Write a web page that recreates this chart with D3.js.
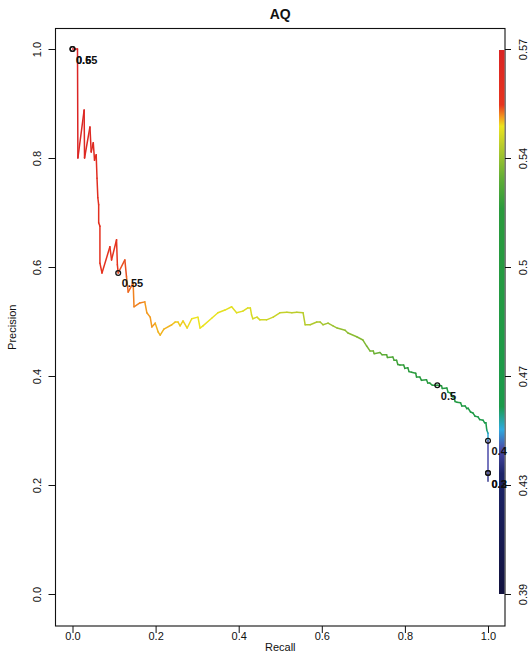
<!DOCTYPE html>
<html>
<head>
<meta charset="utf-8">
<script src="https://cdn.jsdelivr.net/npm/d3@7"></script>
<style>
    html, body { margin: 0; padding: 0; background: #fff; }
    svg { display: block; font-family: "Liberation Sans", Arial, Helvetica, sans-serif; }
</style>
</head>
<body>
<svg id="chart" width="528" height="652"></svg>
<script>
// Chart data
const title = "AQ";
const xLabel = "Recall";
const yLabel = "Precision";

const recall = [
    0.000, 0.012, 0.013, 0.028, 0.029, 0.042, 0.045, 0.050, 0.053, 0.057,
    0.059, 0.061, 0.063, 0.063, 0.066, 0.066, 0.071, 0.090, 0.094, 0.106,
    0.108, 0.110, 0.126, 0.130, 0.134, 0.146, 0.148, 0.162, 0.174, 0.179,
    0.187, 0.191, 0.199, 0.206, 0.211, 0.220, 0.239, 0.247, 0.254, 0.259,
    0.266, 0.276, 0.287, 0.302, 0.307, 0.314, 0.335, 0.350, 0.367, 0.383,
    0.395, 0.410, 0.422, 0.428, 0.431, 0.434, 0.444, 0.451, 0.467, 0.483,
    0.499, 0.516, 0.528, 0.540, 0.555, 0.560, 0.572, 0.588, 0.596, 0.603,
    0.615, 0.627, 0.637, 0.656, 0.663, 0.684, 0.699, 0.708, 0.716, 0.724,
    0.726, 0.740, 0.745, 0.756, 0.758, 0.771, 0.774, 0.780, 0.783, 0.788,
    0.797, 0.800, 0.807, 0.810, 0.816, 0.826, 0.828, 0.836, 0.840, 0.852,
    0.855, 0.860, 0.866, 0.878, 0.888, 0.890, 0.901, 0.904, 0.909, 0.914,
    0.918, 0.921, 0.925, 0.934, 0.937, 0.945, 0.949, 0.952, 0.958, 0.964,
    0.969, 0.976, 0.980, 0.988, 0.992, 0.995, 0.997, 1.000, 1.000, 1.000,
    1.000
];

const precision = [
    1.000, 1.000, 0.800, 0.888, 0.800, 0.857, 0.811, 0.828, 0.796, 0.806,
    0.763, 0.727, 0.714, 0.681, 0.675, 0.607, 0.589, 0.637, 0.613, 0.650,
    0.604, 0.589, 0.613, 0.582, 0.554, 0.571, 0.527, 0.534, 0.536, 0.516,
    0.508, 0.490, 0.497, 0.481, 0.475, 0.486, 0.494, 0.499, 0.499, 0.492,
    0.501, 0.488, 0.505, 0.508, 0.488, 0.492, 0.506, 0.516, 0.521, 0.527,
    0.516, 0.519, 0.525, 0.525, 0.512, 0.505, 0.508, 0.503, 0.503, 0.508,
    0.516, 0.517, 0.516, 0.517, 0.516, 0.494, 0.494, 0.499, 0.499, 0.494,
    0.497, 0.492, 0.488, 0.484, 0.479, 0.472, 0.466, 0.455, 0.446, 0.446,
    0.441, 0.443, 0.439, 0.439, 0.434, 0.435, 0.429, 0.429, 0.421, 0.420,
    0.420, 0.414, 0.415, 0.408, 0.407, 0.405, 0.398, 0.398, 0.392, 0.393,
    0.387, 0.387, 0.383, 0.383, 0.382, 0.377, 0.378, 0.370, 0.369, 0.362,
    0.362, 0.353, 0.352, 0.351, 0.345, 0.345, 0.340, 0.341, 0.334, 0.332,
    0.326, 0.325, 0.320, 0.319, 0.314, 0.314, 0.301, 0.295, 0.281, 0.222,
    0.207
];

const threshold = [
    0.572, 0.571, 0.570, 0.568, 0.567, 0.566, 0.565, 0.564, 0.563, 0.562,
    0.561, 0.560, 0.559, 0.558, 0.557, 0.557, 0.556, 0.555, 0.555, 0.554,
    0.554, 0.553, 0.553, 0.552, 0.552, 0.551, 0.551, 0.551, 0.550, 0.550,
    0.550, 0.550, 0.549, 0.549, 0.549, 0.549, 0.5485, 0.548, 0.548, 0.548,
    0.5478, 0.5475, 0.547, 0.547, 0.547, 0.5468, 0.5465, 0.546, 0.546, 0.5458,
    0.5455, 0.545, 0.545, 0.5448, 0.5445, 0.544, 0.544, 0.5435, 0.543, 0.5425,
    0.542, 0.5415, 0.541, 0.5408, 0.5405, 0.540, 0.5395, 0.539, 0.5385, 0.538,
    0.5375, 0.537, 0.536, 0.5355, 0.535, 0.534, 0.5335, 0.533, 0.5325, 0.532,
    0.531, 0.530, 0.529, 0.528, 0.527, 0.526, 0.525, 0.524, 0.523, 0.522,
    0.521, 0.520, 0.518, 0.517, 0.516, 0.514, 0.513, 0.511, 0.510, 0.508,
    0.506, 0.504, 0.502, 0.500, 0.498, 0.497, 0.495, 0.494, 0.492, 0.490,
    0.489, 0.487, 0.486, 0.484, 0.482, 0.480, 0.478, 0.477, 0.474, 0.472,
    0.469, 0.466, 0.463, 0.460, 0.457, 0.455, 0.452, 0.448, 0.441, 0.438,
    0.3935
];

// Marked cut-offs with their labels
const markerRecall    = [0.000, 0.000, 0.110, 0.878, 1.000, 1.000, 1.000];
const markerPrecision = [1.000, 1.000, 0.589, 0.383, 0.281, 0.222, 0.222];
const markerLabel     = ["0.6", "0.55", "0.55", "0.5", "0.4", "0.3", "0.2"];

// Axis ticks
const xTicks = [0, 0.2, 0.4, 0.6, 0.8, 1.0];
const yTicks = [0, 0.2, 0.4, 0.6, 0.8, 1.0];
const legendTickValues = [0.3935, 0.4292, 0.4649, 0.5006, 0.5363, 0.572];
const legendTickLabels = ["0.39", "0.43", "0.47", "0.5", "0.54", "0.57"];

// Colour scale of the threshold legend
const paletteValues = [0.3935, 0.433, 0.441, 0.4475, 0.455, 0.52, 0.53, 0.541, 0.547, 0.550, 0.554, 0.572];
const paletteColors = ["#12123e", "#1c2468", "#4a4aa8", "#2eaade", "#1a9a4a", "#2a9a3c",
                       "#62ae36", "#bccd2c", "#ece41e", "#f39a1e", "#e6341e", "#da2424"];

/**
 * Precision/recall chart with threshold colour legend.
 */
class PrChart
{
    constructor(svg)
    {
        this.svg   = svg;
        this.box   = {left: 55.5, top: 28.5, right: 505, bottom: 626};
        this.x     = d3.scaleLinear().domain([0, 1]).range([72.5, 488]);
        this.y     = d3.scaleLinear().domain([0, 1]).range([594, 49]);
        this.legendY = d3.scaleLinear()
            .domain([d3.min(legendTickValues), d3.max(legendTickValues)])
            .range([594, 49]);
        this.color = d3.scaleLinear().domain(paletteValues).range(paletteColors);
    }

    draw()
    {
        this.drawFrame();
        this.drawCurve();
        this.drawMarkers();
        this.drawLegend();
        this.drawAxes();
        this.drawMarkerLabels();
    }

    drawFrame()
    {
        const b = this.box;

        this.svg.append("rect")
            .attr("x", b.left)
            .attr("y", b.top)
            .attr("width", b.right - b.left)
            .attr("height", b.bottom - b.top)
            .attr("fill", "none")
            .attr("stroke", "#111")
            .attr("stroke-width", 1.1);

        this.svg.append("text")
            .attr("x", (b.left + b.right) / 2)
            .attr("y", 18.5)
            .attr("text-anchor", "middle")
            .attr("font-size", 14)
            .attr("font-weight", "bold")
            .attr("fill", "#111")
            .text(title);

        this.svg.append("text")
            .attr("x", (b.left + b.right) / 2)
            .attr("y", 651)
            .attr("text-anchor", "middle")
            .attr("font-size", 11)
            .attr("fill", "#111")
            .text(xLabel);

        this.svg.append("text")
            .attr("transform", "translate(16," + ((b.top + b.bottom) / 2) + ") rotate(-90)")
            .attr("text-anchor", "middle")
            .attr("font-size", 11)
            .attr("fill", "#111")
            .text(yLabel);
    }

    drawCurve()
    {
        const self  = this;
        const index = d3.range(recall.length);

        // One segment per step, coloured by the threshold at its start
        this.svg.append("g")
            .attr("class", "curve")
            .selectAll("line")
            .data(d3.pairs(index))
            .join("line")
            .attr("x1", d => self.x(recall[d[0]]))
            .attr("y1", d => self.y(precision[d[0]]))
            .attr("x2", d => self.x(recall[d[1]]))
            .attr("y2", d => self.y(precision[d[1]]))
            .attr("stroke", d => self.color(threshold[d[0]]))
            .attr("stroke-width", 1.5)
            .attr("stroke-linecap", "round");
    }

    drawMarkers()
    {
        this.svg.append("g")
            .attr("class", "markers")
            .selectAll("circle")
            .data(d3.range(markerRecall.length))
            .join("circle")
            .attr("cx", i => this.x(markerRecall[i]))
            .attr("cy", i => this.y(markerPrecision[i]))
            .attr("r", 2.4)
            .attr("fill", "none")
            .attr("stroke", "#111")
            .attr("stroke-width", 1.3);
    }

    drawMarkerLabels()
    {
        this.svg.append("g")
            .attr("class", "marker-labels")
            .selectAll("text")
            .data(d3.range(markerLabel.length))
            .join("text")
            .attr("x", i => this.x(markerRecall[i]) + 3.5)
            .attr("y", i => this.y(markerPrecision[i]) + 14.5)
            .attr("font-size", 11)
            .attr("font-weight", "bold")
            .attr("fill", "#111")
            .text(i => markerLabel[i]);
    }

    drawLegend()
    {
        const [lo, hi] = this.legendY.domain();

        const gradient = this.svg.append("defs")
            .append("linearGradient")
            .attr("id", "thresholdGradient")
            .attr("x1", 0).attr("y1", 1)
            .attr("x2", 0).attr("y2", 0);

        gradient.selectAll("stop")
            .data(paletteValues)
            .join("stop")
            .attr("offset", v => (v - lo) / (hi - lo))
            .attr("stop-color", (v, i) => paletteColors[i]);

        this.svg.append("rect")
            .attr("x", 499)
            .attr("y", this.legendY(hi) + 1)
            .attr("width", 5.5)
            .attr("height", this.legendY(lo) - this.legendY(hi) - 1)
            .attr("fill", "url(#thresholdGradient)");
    }

    drawAxes()
    {
        const b = this.box;

        const styleAxis = g => {
            g.select(".domain").remove();
            g.selectAll("line").attr("stroke", "#111");
            g.selectAll("text")
                .attr("font-size", 11)
                .attr("font-family", null)
                .attr("fill", "#111");
        };

        this.svg.append("g")
            .attr("transform", "translate(0," + b.bottom + ")")
            .call(d3.axisBottom(this.x).tickValues(xTicks).tickSize(7).tickFormat(d3.format(".1f")))
            .call(styleAxis)
            .call(g => g.selectAll("text").attr("y", 14).attr("dy", 0));

        this.svg.append("g")
            .attr("transform", "translate(" + b.left + ",0)")
            .call(d3.axisLeft(this.y).tickValues(yTicks).tickSize(7).tickFormat(d3.format(".1f")))
            .call(styleAxis)
            .call(g => g.selectAll("text")
                .attr("x", 0)
                .attr("y", -15)
                .attr("dy", 0)
                .attr("text-anchor", "middle")
                .attr("transform", "rotate(-90)"));

        this.svg.append("g")
            .attr("transform", "translate(" + b.right + ",0)")
            .call(d3.axisRight(this.legendY)
                .tickValues(legendTickValues)
                .tickSize(6)
                .tickFormat((d, i) => legendTickLabels[i]))
            .call(styleAxis)
            .call(g => g.selectAll("text")
                .attr("x", 0)
                .attr("y", 22)
                .attr("dy", 0)
                .attr("text-anchor", "middle")
                .attr("transform", "rotate(-90)"));
    }
}

new PrChart(d3.select("#chart")).draw();
</script>
</body>
</html>
